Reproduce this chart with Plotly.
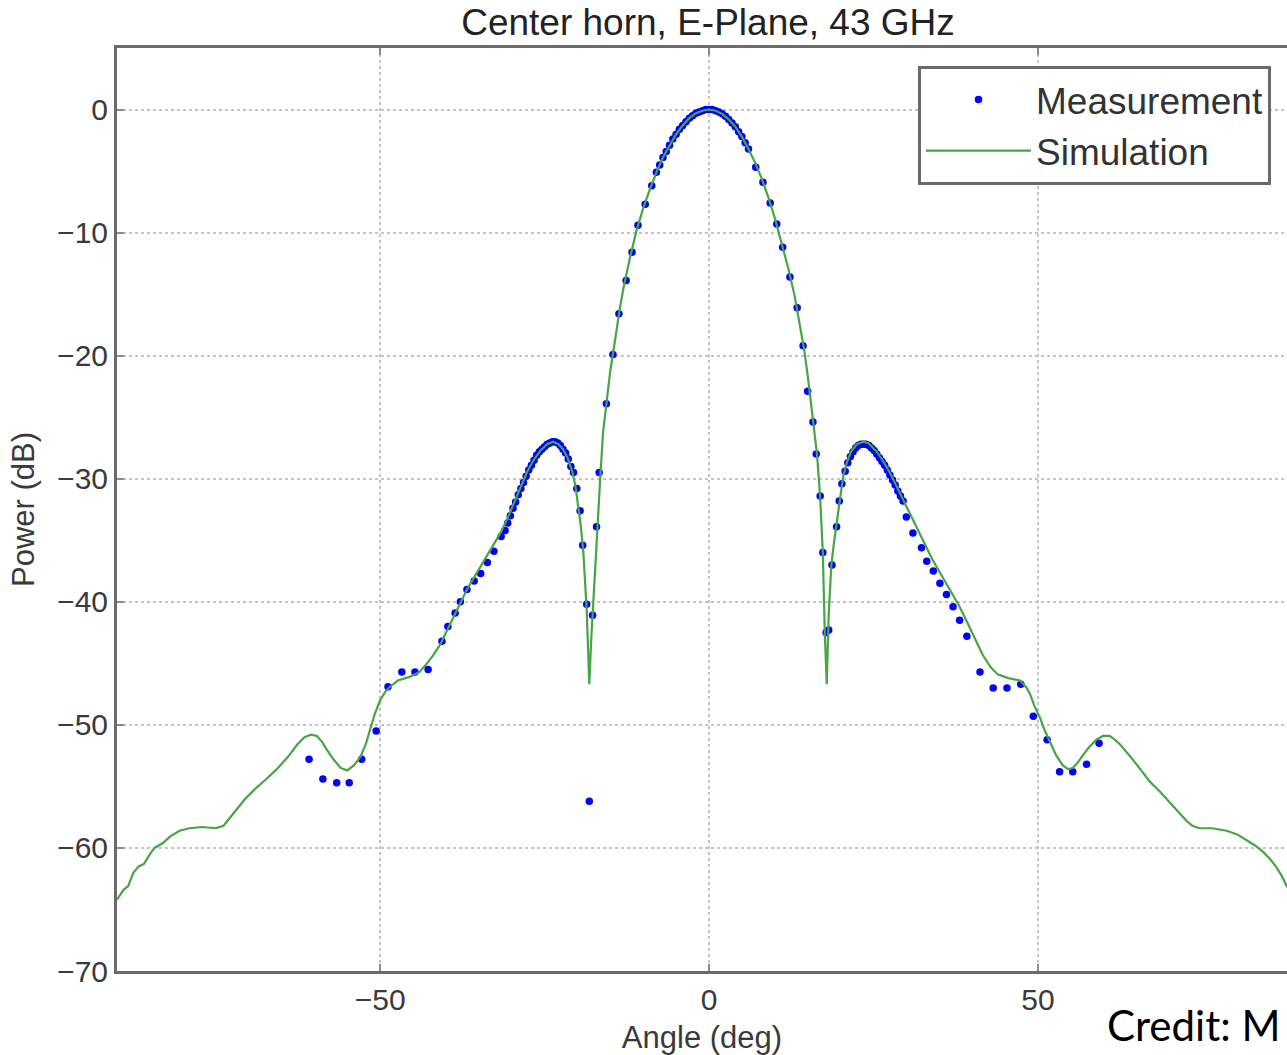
import plotly.graph_objects as go

# ---------------- data ----------------
sim_angle = [
    -90.0, -89.0, -88.3, -87.5, -86.7, -85.9, -85.0, -84.3, -83.0, -82.0,
    -80.5, -79.0, -77.0, -75.0, -73.8, -73.0, -72.0, -70.5, -69.0, -67.5,
    -65.7, -64.0, -62.6, -61.5, -60.5, -59.6, -58.8, -58.0, -57.1, -56.0,
    -55.0, -54.0, -53.0, -52.2, -51.5, -50.8, -50.0, -49.2, -48.5, -47.3,
    -45.5, -44.0, -43.0, -42.0, -40.9, -39.8, -38.9, -37.8, -36.8, -35.8,
    -34.8, -33.8, -32.8, -31.7, -30.7, -29.7, -28.7, -27.7, -26.7, -25.6,
    -24.6, -23.7, -22.9, -22.2, -21.5, -20.8, -20.3, -19.9, -19.5, -19.1,
    -18.8, -18.6, -18.4, -18.2, -17.9, -17.6, -17.3, -17.0, -16.5, -16.1,
    -15.6, -15.0, -14.5, -14.0, -13.5, -13.0, -12.0, -11.0, -10.0, -9.0,
    -8.0, -7.0, -6.0, -5.0, -4.0, -3.0, -2.0, -1.0, 0.0, 1.0,
    2.0, 3.0, 4.0, 5.0, 6.0, 7.0, 8.0, 9.0, 10.0, 11.0,
    12.0, 13.0, 14.0, 14.5, 15.0, 15.5, 15.8, 16.4, 16.9, 17.3,
    17.6, 17.9, 18.2, 18.6, 19.0, 19.4, 19.9, 20.4, 21.0, 21.7,
    22.5, 23.4, 24.2, 25.5, 26.5, 27.5, 28.5, 29.5, 30.5, 31.6,
    32.8, 34.0, 35.3, 36.6, 38.0, 39.2, 40.4, 41.6, 42.8, 43.9,
    45.5, 47.3, 48.3, 48.8, 49.5, 50.3, 51.0, 51.8, 52.8, 53.8,
    54.6, 55.3, 56.0, 56.8, 57.8, 58.9, 59.9, 60.9, 61.7, 62.5,
    63.5, 64.4, 65.7, 67.0, 68.5, 70.1, 71.4, 72.6, 73.5, 74.5,
    76.5, 78.7, 80.3, 81.8, 83.0, 84.2, 85.3, 86.3, 87.1, 87.9,
]
sim_power = [
    -64.2, -63.4, -63.1, -62.0, -61.5, -61.3, -60.5, -60.0, -59.6, -59.1,
    -58.6, -58.4, -58.3, -58.4, -58.2, -57.7, -57.0, -56.0, -55.2, -54.5,
    -53.6, -52.6, -51.6, -51.0, -50.8, -50.9, -51.4, -52.1, -52.8, -53.5,
    -53.7, -53.3, -52.6, -51.6, -50.4, -49.1, -48.0, -47.3, -46.9, -46.4,
    -46.1, -45.7, -45.1, -44.4, -43.5, -42.3, -41.2, -40.1, -39.0, -38.1,
    -37.2, -36.3, -35.4, -34.4, -33.3, -32.0, -30.7, -29.5, -28.5, -27.7,
    -27.2, -27.0, -27.2, -27.6, -28.3, -29.4, -30.6, -32.0, -33.8, -36.0,
    -38.5, -40.6, -43.5, -46.7, -43.0, -40.0, -36.8, -33.9, -29.6, -26.2,
    -23.9, -21.2, -19.5, -17.6, -16.0, -14.5, -12.0, -9.8, -8.0, -6.5,
    -5.1, -3.9, -2.9, -2.0, -1.3, -0.7, -0.3, -0.1, 0.0, -0.1,
    -0.35, -0.8, -1.4, -2.2, -3.2, -4.3, -5.6, -7.1, -8.8, -10.7,
    -12.8, -15.1, -17.9, -19.6, -21.6, -23.9, -25.2, -27.9, -31.5, -36.0,
    -42.5, -46.7, -41.0, -37.0, -35.2, -33.6, -31.5, -29.8, -28.6, -27.7,
    -27.2, -27.0, -27.1, -27.8, -28.6, -29.5, -30.6, -31.7, -32.8, -33.9,
    -35.2, -36.6, -37.8, -39.0, -40.3, -41.6, -43.0, -44.3, -45.3, -45.9,
    -46.2, -46.4, -47.0, -47.5, -48.5, -49.4, -50.4, -51.3, -52.5, -53.3,
    -53.6, -53.5, -53.1, -52.5, -51.8, -51.2, -50.9, -50.9, -51.2, -51.6,
    -52.2, -52.8, -53.7, -54.6, -55.4, -56.3, -57.1, -57.8, -58.2, -58.4,
    -58.4, -58.6, -58.9, -59.4, -59.8, -60.3, -60.9, -61.6, -62.3, -63.2,
]

meas_angle = [
    -60.8, -58.7, -56.6, -54.7, -52.8, -50.6, -48.8, -46.7, -44.7, -42.7,
    -40.6, -39.7, -38.6, -37.8, -36.8, -35.7, -34.7, -33.7, -32.7, -31.6,
    -31.0, -30.6, -30.2, -29.8, -29.4, -29.0, -28.6, -28.2, -27.8, -27.4,
    -27.0, -26.6, -26.2, -25.8, -25.4, -25.0, -24.6, -24.2, -23.8, -23.4,
    -23.0, -22.6, -22.2, -21.8, -21.4, -21.0, -20.6, -20.1, -19.6, -19.2,
    -18.6, -18.2, -17.7, -17.1, -16.7, -15.6, -14.6, -13.7, -12.6, -11.7,
    -10.8, -9.7, -8.7,
    -8.0, -7.5, -7.0, -6.5, -6.0, -5.5, -5.0, -4.5, -4.0, -3.5,
    -3.0, -2.5, -2.0, -1.5, -1.0, -0.5, 0.0, 0.5, 1.0, 1.5,
    2.0, 2.5, 3.0, 3.5, 4.0, 4.5, 5.0, 5.5, 6.0,
    7.1, 8.2, 9.3, 10.3, 11.2, 12.3, 13.4, 14.3, 15.0, 15.8,
    16.3, 16.9, 17.3, 17.8, 18.2, 18.7, 19.4, 19.8, 20.2, 20.7,
    21.1, 21.5, 21.9, 22.3, 22.7, 23.1, 23.5, 23.9, 24.3, 24.7,
    25.1, 25.5, 25.9, 26.3, 26.7, 27.1, 27.5, 27.9, 28.3, 28.7,
    29.1, 29.5, 30.0, 31.0, 32.3, 33.1, 34.1, 35.1, 36.1, 37.1,
    38.1, 39.2, 41.2, 43.2, 45.3, 47.4, 49.3, 51.4, 53.3, 55.3,
    57.4, 59.3,
]
meas_power = [
    -52.8, -54.4, -54.7, -54.7, -52.8, -50.5, -46.9, -45.7, -45.7, -45.5,
    -43.2, -42.0, -40.9, -40.0, -39.0, -38.3, -37.7, -36.8, -35.9, -34.7,
    -34.2, -33.6, -33.0, -32.4, -31.9, -31.3, -30.8, -30.3, -29.8, -29.3,
    -28.9, -28.5, -28.1, -27.8, -27.6, -27.4, -27.2, -27.1, -27.0, -27.0,
    -27.1, -27.3, -27.6, -27.9, -28.4, -29.0, -29.5, -30.8, -32.6, -35.4,
    -40.2, -56.2, -41.1, -33.9, -29.5, -23.9, -19.9, -16.6, -13.9, -11.6,
    -9.4, -7.7, -6.2,
    -5.1, -4.5, -3.9, -3.4, -2.9, -2.4, -2.0, -1.6, -1.3, -1.0,
    -0.7, -0.5, -0.3, -0.2, -0.1, 0.0, 0.0, 0.0, -0.1, -0.2,
    -0.35, -0.55, -0.8, -1.1, -1.4, -1.8, -2.2, -2.7, -3.2,
    -4.7, -5.9, -7.6, -9.3, -11.2, -13.6, -16.1, -19.2, -22.9, -25.4,
    -28.0, -31.4, -36.0, -42.5, -42.3, -37.0, -33.9, -31.8, -30.4, -29.4,
    -28.7, -28.2, -27.8, -27.5, -27.3, -27.2, -27.2, -27.2, -27.3, -27.5,
    -27.7, -28.0, -28.3, -28.6, -28.9, -29.3, -29.7, -30.1, -30.5, -31.0,
    -31.4, -31.8, -33.1, -34.4, -35.6, -36.7, -37.5, -38.5, -39.4, -40.4,
    -41.5, -42.8, -45.7, -47.0, -47.0, -46.7, -49.3, -51.2, -53.8, -53.8,
    -53.2, -51.5,
]

x_ticks = [-50, 0, 50]
y_ticks = [0, -10, -20, -30, -40, -50, -60, -70]

title_text = "Center horn, E-Plane, 43 GHz"
x_label = "Angle (deg)"
y_label = "Power (dB)"
credit_text = "Credit: M"

# ---------------- figure ----------------
W, H = 1287, 1055
ml, mr, mt, mb = 117, 0, 48, 84

fig = go.Figure()
fig.add_trace(go.Scatter(
    x=meas_angle, y=meas_power, mode="markers", name="Measurement",
    marker=dict(color="#0000ff", size=7.5, symbol="circle", line=dict(width=0)),
))
fig.add_trace(go.Scatter(
    x=sim_angle, y=sim_power, mode="lines", name="Simulation",
    line=dict(color="#47a447", width=2.2),
))

axis_common = dict(
    showline=True, linecolor="#6a6a6a", linewidth=3,
    ticks="inside", ticklen=7, tickwidth=2, tickcolor="#8a8a8a",
    showgrid=True, gridcolor="#c4c4c4", gridwidth=1.5, griddash="dot",
    zeroline=False,
    tickfont=dict(family="Liberation Sans, Arial", size=30, color="#3a3a3a"),
)

fig.update_xaxes(
    range=[-90, 87.87], tickvals=x_ticks, mirror="ticks",
    title=dict(text=x_label, standoff=12,
               font=dict(family="Liberation Sans, Arial", size=31, color="#3a3a3a")),
    **axis_common,
)
fig.update_yaxes(
    range=[-70, 5], tickvals=y_ticks, mirror=False,
    title=dict(text=y_label, standoff=14,
               font=dict(family="Liberation Sans, Arial", size=31, color="#3a3a3a")),
    **axis_common,
)

fig.update_layout(
    width=W, height=H,
    margin=dict(l=ml, r=mr, t=mt, b=mb, pad=0),
    paper_bgcolor="white", plot_bgcolor="white",
    title=dict(text=title_text, x=(708 - ml) / (W - ml - mr), xref="paper",
               xanchor="center", y=1 - 22 / H, yanchor="middle",
               font=dict(family="Liberation Sans, Arial", size=37, color="#222222")),
    showlegend=True,
    legend=dict(
        x=(918 - ml) / (W - ml - mr), y=(971 - 66) / (971 - 48),
        xanchor="left", yanchor="top",
        bgcolor="white", bordercolor="#6a6a6a", borderwidth=3,
        font=dict(family="Liberation Sans, Arial", size=37, color="#333333"),
        itemwidth=105, tracegroupgap=0,
    ),
    annotations=[dict(
        text=credit_text, xref="paper", yref="paper",
        x=(1105 - ml) / (W - ml - mr), y=(971 - 1025) / (971 - 48),
        xanchor="left", yanchor="middle", showarrow=False,
        font=dict(family="Lato, Open Sans", size=42, color="#000000"),
    )],
)

fig.write_html("out.html")
